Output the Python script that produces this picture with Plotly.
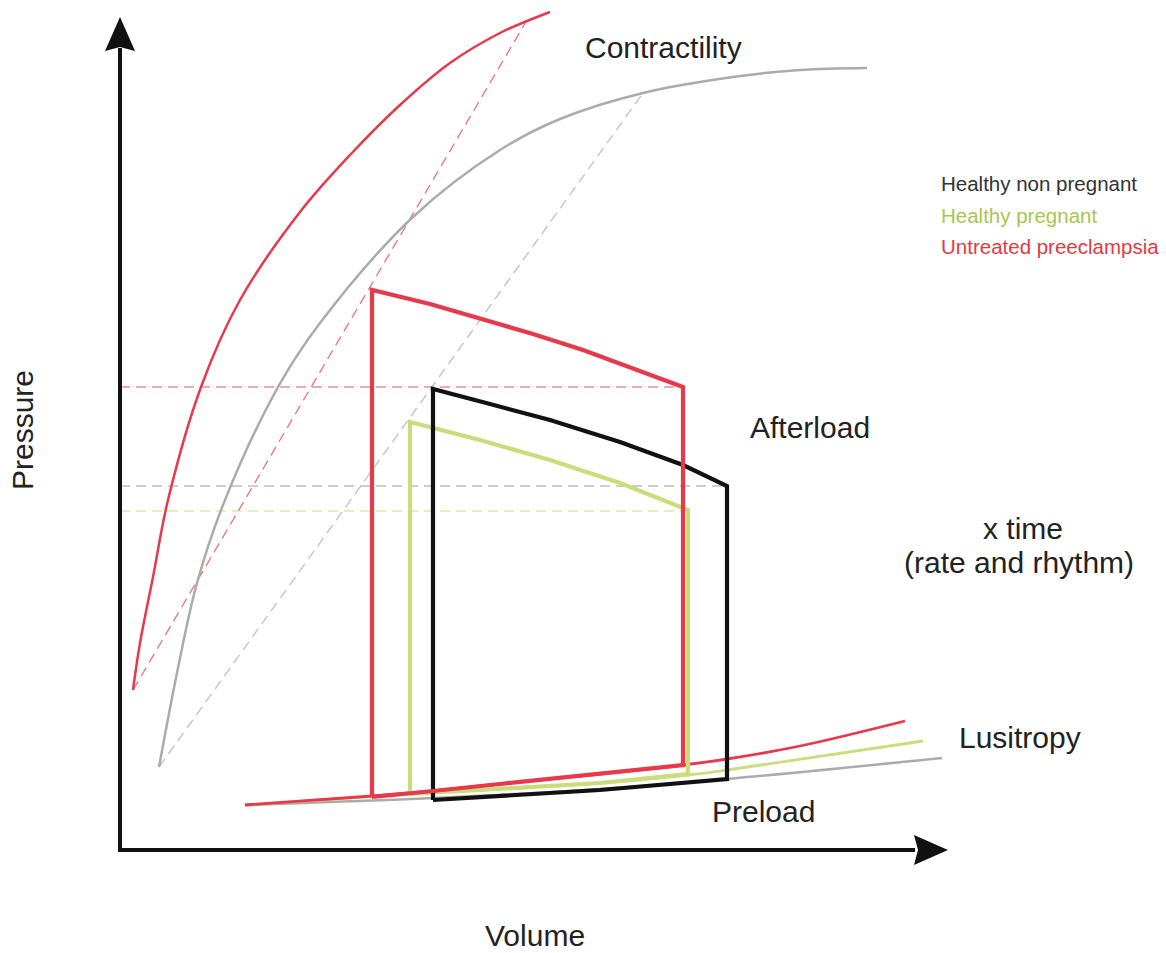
import plotly.graph_objects as go

# pressure-volume schematic, volume along x and pressure along y (arbitrary units)

# end-systolic pressure volume relations (contractility)
espvr_red_v = [13, 20, 33, 48, 81, 120, 180, 230, 280, 330, 380, 430]
espvr_red_p = [160, 207, 273, 350, 463, 550, 638, 695, 745, 787, 817, 838]
espvr_gray_v = [39, 57, 77, 105, 158, 200, 293, 380, 440, 523, 613, 680, 747]
espvr_gray_p = [83, 177, 267, 350, 463, 527, 633, 700, 731, 757, 773, 780, 782]

# linear elastance lines (dashed)
elast_red_v = [13, 407]
elast_red_p = [160, 830]
elast_gray_v = [39, 523]
elast_gray_p = [83, 757]

# end-diastolic pressure volume relations (lusitropy)
edpvr_red_v = [125, 252, 313, 380, 480, 563, 607, 680, 785]
edpvr_red_p = [45, 54, 59, 66, 76, 85, 91, 104, 129]
edpvr_green_v = [125, 290, 480, 568, 607, 803]
edpvr_green_p = [45, 56, 67, 75, 80, 109]
edpvr_gray_v = [125, 313, 480, 607, 822]
edpvr_gray_p = [45, 52, 61, 71, 92]

# end-systolic pressure levels (dashed horizontals)
esp_red_v, esp_red_p = [0, 563], [463, 463]
esp_gray_v, esp_gray_p = [0, 607], [364, 364]
esp_green_v, esp_green_p = [0, 570], [339, 339]

# PV loops
loop_black_v = [313, 313, 370, 430, 500, 563, 607, 607, 480, 313]
loop_black_p = [50, 461, 446, 430, 408, 385, 364, 71, 60, 50]
loop_green_v = [290, 290, 360, 430, 500, 568, 568, 480, 290]
loop_green_p = [56, 428, 410, 390, 367, 340, 76, 67, 56]
loop_red_v = [252, 252, 310, 363, 413, 463, 513, 563, 563, 480, 380, 313, 252]
loop_red_p = [53, 560, 546, 531, 516, 500, 482, 463, 85, 76, 66, 59, 53]

# axis extents
vol_axis_end = 795
vol_arrow_tip = 828
pres_axis_end = 802
pres_arrow_tip = 833

RED = "#E63A4C"
GREEN = "#C9DD7C"
GRAY = "#ABABAB"
BLACK = "#111111"
TEXT = "#222222"
FONT = "Liberation Sans, Arial, sans-serif"

fig = go.Figure()


def add_line(v, p, color, width, dash="solid", shape="linear"):
    fig.add_trace(go.Scatter(x=v, y=p, mode="lines", hoverinfo="skip",
                             line=dict(color=color, width=width, dash=dash, shape=shape, smoothing=1)))


# dashed guide lines
add_line(esp_red_v, esp_red_p, "#EE8A92", 1.4, "10px,6px")
add_line(esp_gray_v, esp_gray_p, "#BDBDC6", 1.4, "10px,6px")
add_line(esp_green_v, esp_green_p, "#DDE9A8", 1.4, "10px,6px")
add_line(elast_gray_v, elast_gray_p, "#C4C4C4", 1.4, "10px,6px")
add_line(elast_red_v, elast_red_p, "#EE7883", 1.4, "10px,6px")

# contractility curves
add_line(espvr_gray_v, espvr_gray_p, GRAY, 2.5, shape="spline")
add_line(espvr_red_v, espvr_red_p, RED, 2.5, shape="spline")

# lusitropy curves
add_line(edpvr_gray_v, edpvr_gray_p, GRAY, 2.5, shape="spline")
add_line(edpvr_green_v, edpvr_green_p, GREEN, 2.8, shape="spline")
add_line(edpvr_red_v, edpvr_red_p, RED, 2.8, shape="spline")

# loops
add_line(loop_green_v, loop_green_p, GREEN, 4.2)
add_line(loop_black_v, loop_black_p, BLACK, 4.2)
add_line(loop_red_v, loop_red_p, RED, 4.2)

# axes with arrows
add_line([0, 0], [-2, pres_axis_end], BLACK, 4)
add_line([-2, vol_axis_end], [0, 0], BLACK, 4)


def arrow_path(tip, back, half, notch, vertical):
    if vertical:
        return (f"M 0 {tip} L {-half} {back} L 0 {back + notch} L {half} {back} Z")
    return (f"M {tip} 0 L {back} {half} L {back + notch} 0 L {back} {-half} Z")


shapes = [
    dict(type="path", xref="x", yref="y", fillcolor=BLACK, line=dict(width=0),
         path=arrow_path(pres_arrow_tip, pres_arrow_tip - 34, 15, 4, True)),
    dict(type="path", xref="x", yref="y", fillcolor=BLACK, line=dict(width=0),
         path=arrow_path(vol_arrow_tip, vol_arrow_tip - 34, 15, 4, False)),
]

labels = [
    ("Contractility", 543, 803, 30, TEXT),
    ("Afterload", 690, 423, 30, TEXT),
    ("x time", 903, 322, 30, TEXT),
    ("(rate and rhythm)", 899, 288, 30, TEXT),
    ("Lusitropy", 900, 113, 30, TEXT),
    ("Preload", 643, 39, 30, TEXT),
    ("Volume", 415, -85, 30, TEXT),
]
annotations = [dict(text=t, x=x, y=y, xref="x", yref="y", showarrow=False,
                    xanchor="center", yanchor="middle",
                    font=dict(family=FONT, size=s, color=c)) for t, x, y, s, c in labels]
annotations.append(dict(text="Pressure", x=-98, y=420, xref="x", yref="y", showarrow=False,
                        textangle=-90, xanchor="center", yanchor="middle",
                        font=dict(family=FONT, size=30, color=TEXT)))

legend_items = [("Healthy non pregnant", "#333333", 667),
                ("Healthy pregnant", "#A8C64E", 635),
                ("Untreated preeclampsia", "#E53A42", 604)]
for t, c, y in legend_items:
    annotations.append(dict(text=t, x=819, y=y, xref="x", yref="y", showarrow=False,
                            xanchor="left", yanchor="middle",
                            font=dict(family=FONT, size=20.5, color=c)))

fig.update_layout(
    width=1166, height=953,
    margin=dict(l=0, r=0, t=0, b=0),
    paper_bgcolor="white", plot_bgcolor="white",
    showlegend=False,
    xaxis=dict(range=[-120, 1046], visible=False, fixedrange=True),
    yaxis=dict(range=[-103, 850], visible=False, fixedrange=True),
    shapes=shapes,
    annotations=annotations,
)

# drop the default page margin so the figure fills the window exactly
fig.write_html("out.html", config={"displayModeBar": False},
               post_script="document.body.style.margin='0';document.body.style.overflow='hidden';")
